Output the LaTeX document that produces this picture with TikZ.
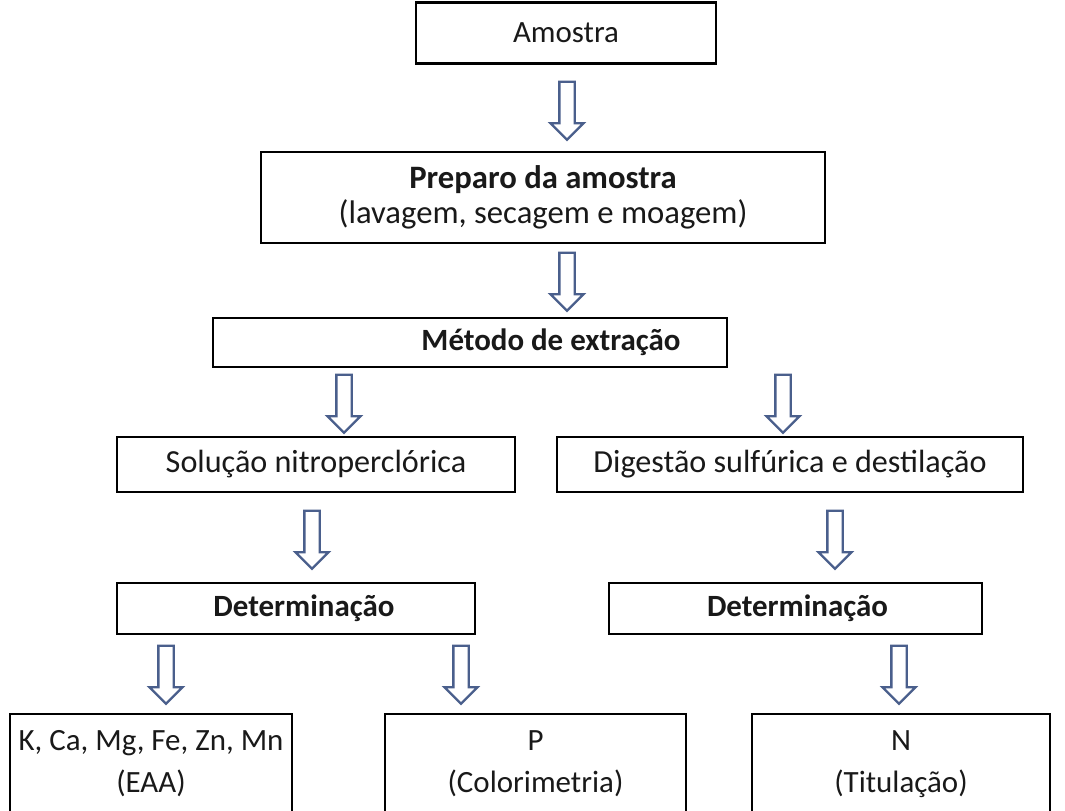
\documentclass[tikz,border=0pt]{standalone}
\usepackage{fontspec}
\setmainfont{Carlito}
\usetikzlibrary{shapes.arrows}
\definecolor{arrowblue}{HTML}{4A5F8C}

\begin{document}
\begin{tikzpicture}[x=0.02cm,y=-0.02cm,font=\fontsize{17.6pt}{19.3pt}\selectfont]
    \tikzstyle{box}=[draw=black,line width=1.6pt,fill=white,inner sep=0pt,align=center,text=black!90]
    \tikzstyle{down arrow}=[single arrow,draw=arrowblue,line width=1.3pt,fill=white,
        shape border rotate=270,inner sep=0.13cm,single arrow head extend=0.18cm,
        single arrow head indent=0pt,minimum height=1.16cm]
    \tikzstyle{branch}=[box,font=\fontsize{18.3pt}{20pt}\selectfont]
    \tikzstyle{result}=[box,font=\fontsize{17.6pt}{23.8pt}\selectfont]

    \clip (0,0) rectangle (1065,811);
    \fill[white] (0,0) rectangle (1065,811);

    % Draw the sample boxes
    \node[box,minimum width=6cm,minimum height=1.22cm] (amostra) at (566,33) {Amostra};
    \node[box,font=\fontsize{18.6pt}{19.8pt}\selectfont,minimum width=11.28cm,minimum height=1.82cm]
        (preparo) at (543,197.5) {\textbf{Preparo da amostra}\\(lavagem, secagem e moagem)};
    \node[box,minimum width=10.28cm,minimum height=0.98cm] (metodo) at (470,342.5)
        {\hspace*{3.24cm}\textbf{Método de extração}};

    % Draw the two extraction branches
    \node[branch,minimum width=7.96cm,minimum height=1.1cm] (sol) at (316,464.5) {Solução nitroperclórica};
    \node[branch,minimum width=9.32cm,minimum height=1.1cm] (dig) at (790,464.5) {Digestão sulfúrica e destilação};
    \node[box,minimum width=7.16cm,minimum height=1.02cm] (det-1) at (296,608.5)
        {\hspace*{0.32cm}\textbf{Determinação}};
    \node[box,minimum width=7.46cm,minimum height=1.02cm] (det-2) at (795.5,608.5)
        {\hspace*{0.08cm}\textbf{Determinação}};

    % Draw the result boxes
    \node[result,minimum width=5.64cm,minimum height=2cm] (res-1) at (151,764) {K, Ca, Mg, Fe, Zn, Mn\\(EAA)};
    \node[result,minimum width=6.02cm,minimum height=2cm] (res-2) at (535.5,764) {P\\(Colorimetria)};
    \node[result,minimum width=5.96cm,minimum height=2cm] (res-3) at (901,764) {N\\(Titulação)};

    % Connect the boxes with hollow block arrows
    \foreach \name / \x / \y in {1/567/107, 2/567/278, 3/344/400, 4/783/400,
                                 5/312/536, 6/835/536, 7/166/671, 8/461/671, 9/899/671}
        \node[down arrow] (A-\name) at (\x,\y) {};
\end{tikzpicture}
\end{document}
